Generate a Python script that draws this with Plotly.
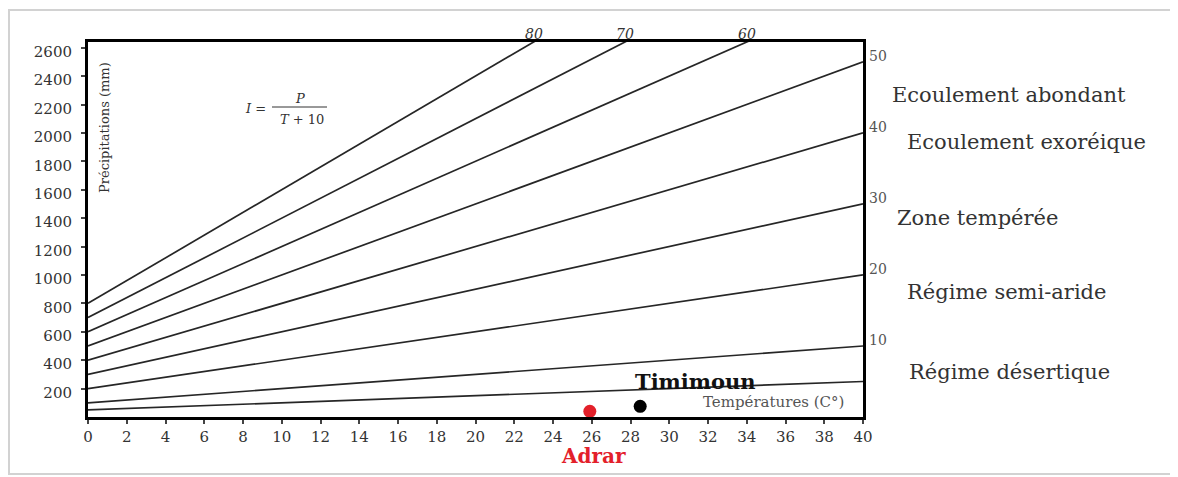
import plotly.graph_objects as go

# ---------------- data ----------------
aridity_indices = [5, 10, 20, 30, 40, 50, 60, 70, 80]          # De Martonne index lines
right_labels = [10, 20, 30, 40, 50]                             # labelled at right axis
top_labels = [60, 70, 80]                                       # labelled at top axis
temp_range = [0, 40]                                            # temperature axis (°C)
y_top = 2640                                                    # precipitation axis top (mm)
x_ticks = list(range(0, 41, 2))
y_ticks = list(range(200, 2601, 200))

stations = ["Adrar", "Timimoun"]
station_temp = [25.9, 28.5]
station_precip = [40, 75]
station_colors = ["#e3202a", "#000000"]

zones = ["Ecoulement abondant", "Ecoulement exoréique", "Zone tempérée",
         "Régime semi-aride", "Régime désertique"]

# ---------------- layout helpers ----------------
# page body has an 8px default margin -> figure is 8px smaller and offset
OFF = 8
W, H = 1178 - OFF, 477 - OFF
PL, PR, PT, PB = 88, 863, 42, 417          # plot area in page pixels
L, T = PL - OFF, PT - OFF
R, B = (W + OFF) - PR, (H + OFF) - PB
PW, PH = PR - PL, PB - PT


def px(xp):
    return (xp - PL) / PW


def py(yp):
    return (PB - yp) / PH


FONT = "DejaVu Serif"

fig = go.Figure()

# index lines P = I * (T + 10)
for I in aridity_indices:
    fig.add_trace(go.Scatter(
        x=temp_range, y=[I * (t + 10) for t in temp_range],
        mode="lines", line=dict(color="#262626", width=1.7),
        hoverinfo="skip", showlegend=False))

# stations
fig.add_trace(go.Scatter(
    x=station_temp, y=station_precip, mode="markers",
    marker=dict(color=station_colors, size=13, line=dict(width=0)),
    showlegend=False, cliponaxis=False))

ann = []
# right-axis index labels
for I in right_labels:
    ann.append(dict(x=temp_range[1], y=I * (temp_range[1] + 10), xref="x", yref="y",
                    text=str(I), showarrow=False, xanchor="left", yanchor="middle",
                    xshift=4, yshift=6, font=dict(family=FONT, size=14, color="#555555")))
# top index labels
for I in top_labels:
    ann.append(dict(x=y_top / I - 10, y=y_top, xref="x", yref="y",
                    text="<i>%d</i>" % I, showarrow=False, xanchor="center",
                    yanchor="middle", yshift=8,
                    font=dict(family=FONT, size=14, color="#333333")))

# zone labels
zone_pos = [(890, 95), (905, 142), (895, 218), (905, 292), (907, 372)]
for name, (xp, yp) in zip(zones, zone_pos):
    ann.append(dict(x=px(xp), y=py(yp), xref="paper", yref="paper", text=name,
                    showarrow=False, xanchor="left", yanchor="middle",
                    font=dict(family=FONT, size=21, color="#333333")))

# station labels
ann.append(dict(x=px(593), y=py(456), xref="paper", yref="paper", text="<b>Adrar</b>",
                showarrow=False, xanchor="center", yanchor="middle",
                font=dict(family=FONT, size=20, color=station_colors[0])))
ann.append(dict(x=px(695), y=py(381), xref="paper", yref="paper", text="<b>Timimoun</b>",
                showarrow=False, xanchor="center", yanchor="middle",
                font=dict(family=FONT, size=21, color="#111111")))

# axis titles (inside plot)
ann.append(dict(x=px(773), y=py(402), xref="paper", yref="paper",
                text="Températures (C°)", showarrow=False, xanchor="center",
                yanchor="middle", font=dict(family=FONT, size=15, color="#555555")))
ann.append(dict(x=px(105), y=py(128), xref="paper", yref="paper",
                text="Précipitations (mm)", showarrow=False, textangle=-90,
                xanchor="center", yanchor="middle",
                font=dict(family=FONT, size=13, color="#333333")))

# formula I = P / (T + 10)
ann.append(dict(x=px(268), y=py(108), xref="paper", yref="paper", text="<i>I</i> =",
                showarrow=False, xanchor="right", yanchor="middle",
                font=dict(family=FONT, size=13, color="#333333")))
ann.append(dict(x=px(300), y=py(98), xref="paper", yref="paper", text="<i>P</i>",
                showarrow=False, xanchor="center", yanchor="middle",
                font=dict(family=FONT, size=13, color="#333333")))
ann.append(dict(x=px(302), y=py(119), xref="paper", yref="paper", text="<i>T</i> + 10",
                showarrow=False, xanchor="center", yanchor="middle",
                font=dict(family=FONT, size=13, color="#333333")))

shapes = [
    dict(type="line", xref="paper", yref="paper", x0=px(272), x1=px(327),
         y0=py(107), y1=py(107), line=dict(color="#333333", width=1)),
    dict(type="rect", xref="paper", yref="paper", x0=px(9), x1=px(1176),
         y0=py(474), y1=py(10), line=dict(color="#d2d2d2", width=2), layer="below"),
]

fig.update_layout(
    width=W, height=H, margin=dict(l=L, r=R, t=T, b=B, pad=0),
    paper_bgcolor="white", plot_bgcolor="white",
    annotations=ann, shapes=shapes, showlegend=False,
    font=dict(family=FONT, color="#333333"),
    xaxis=dict(range=temp_range, tickvals=x_ticks, ticktext=[str(v) for v in x_ticks],
               showgrid=False, zeroline=False, showline=True, mirror=True,
               linecolor="black", linewidth=3, ticks="outside", ticklen=4,
               tickcolor="#444444", tickwidth=1.5,
               tickfont=dict(family=FONT, size=15, color="#333333")),
    yaxis=dict(range=[0, y_top], tickvals=y_ticks, ticktext=[str(v) for v in y_ticks],
               showgrid=False, zeroline=False, showline=True, mirror=True,
               linecolor="black", linewidth=3, ticks="outside", ticklen=4,
               tickcolor="#444444", tickwidth=1.5, ticklabelstandoff=6,
               ticklabelshift=4,
               tickfont=dict(family=FONT, size=15, color="#333333")),
)

fig.write_html("out.html")
